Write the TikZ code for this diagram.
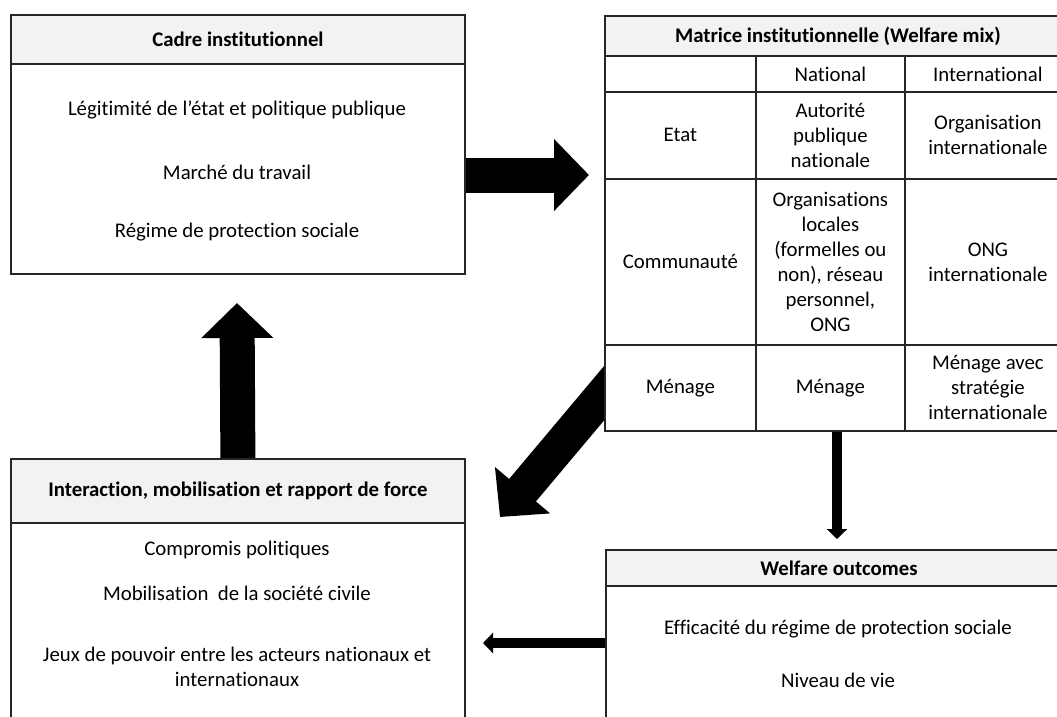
\documentclass[tikz,border=0pt]{standalone}
\usepackage{fontspec}
\setmainfont{Carlito}[Ligatures=NoCommon, RawFeature={-liga;-calt;-dlig}]
\usetikzlibrary{arrows.meta}

\definecolor{hdrgray}{HTML}{F2F2F2}
\definecolor{rulegray}{HTML}{262626}

\tikzset{
  txt/.style={font=\fontsize{20.8}{25}\selectfont, align=center, inner sep=0pt},
  headbox/.style={draw=rulegray, fill=hdrgray, line width=1.8pt, anchor=north west, inner sep=0pt, font=\fontsize{20.8}{25}\selectfont\bfseries},
  bodybox/.style={draw=rulegray, fill=white, line width=1.8pt, anchor=north west, inner sep=0pt},
  cell/.style={bodybox, align=center, font=\fontsize{20.8}{25}\selectfont},
  bigarrow/.style={line width=35pt, -{Triangle[length=35pt, width=70pt]}},
  thinarrow/.style={line width=10pt, -{Triangle[length=10pt, width=20pt]}}
}

\begin{document}
\begin{tikzpicture}[x=1pt, y=-1pt]
\useasboundingbox (0,0) rectangle (1057,717);
\clip (0,0) rectangle (1057,717);

% arrow out of the matrix, drawn first so the table hides its end
\coordinate (mixOut) at (632,360);
\coordinate (toForce) at (500,517);
\draw[bigarrow] (mixOut) -- (toForce);

% cadre institutionnel
\node[headbox, minimum width=454pt, minimum height=49pt] (cadreHead) at (10,14) {Cadre institutionnel};
\node[bodybox, minimum width=454pt, minimum height=210pt] (cadreBody) at (10,63) {};
\node[txt] (legit) at (237,110) {Légitimité de l’état et politique publique};
\node[txt] (marche) at (237,172) {Marché du travail};
\node[txt] (regime) at (237,232) {Régime de protection sociale};

% matrice institutionnelle
\node[headbox, minimum width=466pt, minimum height=40pt] (mixHead) at (604,15) {Matrice institutionnelle (Welfare mix)};
\node[cell, minimum width=151pt, minimum height=36pt] (corner) at (604,55) {};
\node[cell, minimum width=149pt, minimum height=36pt] (natHead) at (755,55) {National};
\node[cell, minimum width=166pt, minimum height=36pt] (intHead) at (904,55) {International};

\node[cell, minimum width=151pt, minimum height=87pt] (etatRow) at (604,91) {Etat};
\node[cell, minimum width=149pt, minimum height=87pt] (etatNat) at (755,91) {Autorité\\publique\\nationale};
\node[cell, minimum width=166pt, minimum height=87pt] (etatInt) at (904,91) {Organisation\\internationale};

\node[cell, minimum width=151pt, minimum height=166pt] (commRow) at (604,178) {Communauté};
\node[cell, minimum width=149pt, minimum height=166pt] (commNat) at (755,178) {Organisations\\locales\\(formelles ou\\non), réseau\\personnel,\\ONG};
\node[cell, minimum width=166pt, minimum height=166pt] (commInt) at (904,178) {ONG\\internationale};

\node[cell, minimum width=151pt, minimum height=86pt] (menRow) at (604,344) {Ménage};
\node[cell, minimum width=149pt, minimum height=86pt] (menNat) at (755,344) {Ménage};
\node[cell, minimum width=166pt, minimum height=86pt] (menInt) at (904,344) {Ménage avec\\stratégie\\internationale};

% interaction
\node[headbox, minimum width=454pt, minimum height=64pt] (interHead) at (10,458) {Interaction, mobilisation et rapport de force};
\node[bodybox, minimum width=454pt, minimum height=230pt] (interBody) at (10,522) {};
\node[txt] (compromis) at (237,550) {Compromis politiques};
\node[txt] (mobil) at (237,593) {Mobilisation~ de la société civile};
\node[txt] (jeux) at (237,667) {Jeux de pouvoir entre les acteurs nationaux et\\internationaux};

% welfare outcomes
\node[headbox, minimum width=466pt, minimum height=36pt] (outHead) at (605,549) {Welfare outcomes};
\node[bodybox, minimum width=466pt, minimum height=180pt] (outBody) at (605,585) {};
\node[txt] (efficacite) at (838,629) {Efficacité du régime de protection sociale};
\node[txt] (niveau) at (838,680) {Niveau de vie};

% arrows
\coordinate (toMix) at (589,175);
\draw[bigarrow] (cadreBody.east |- toMix) -- (toMix);

\coordinate (toCadre) at (237,303);
\draw[bigarrow] (interHead.north) -- (toCadre);

\coordinate (toOutcome) at (837,539);
\draw[thinarrow] (toOutcome |- menNat.south) -- (toOutcome);

\coordinate (toInter) at (483,643);
\draw[thinarrow] (outBody.west |- toInter) -- (toInter);

\end{tikzpicture}
\end{document}
